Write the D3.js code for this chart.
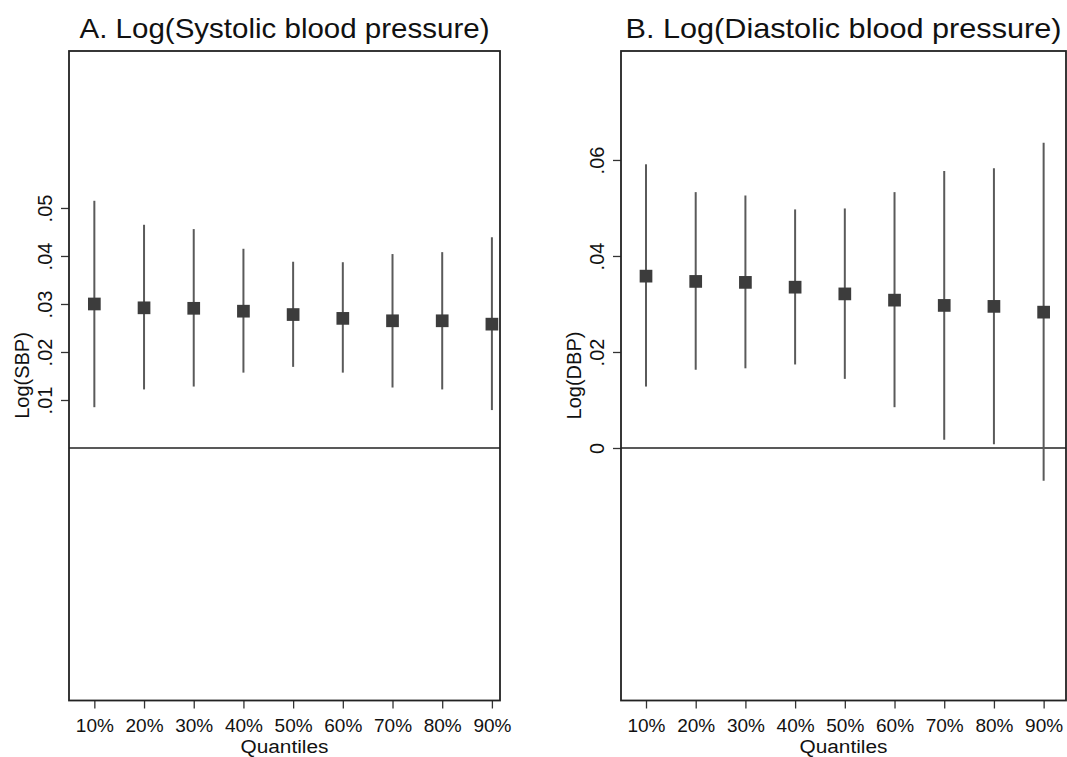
<!DOCTYPE html>
<html>
<head>
<meta charset="utf-8">
<script src="https://cdn.jsdelivr.net/npm/d3@7"></script>
<style>
  body { margin: 0; background: #fff; }
  svg { display: block; font-family: "Liberation Sans", Arial, sans-serif; }
</style>
</head>
<body>
<svg id="chart" width="1067" height="757"></svg>
<script>
// quantile regression estimates with 95% CI
var quantiles = ["10%", "20%", "30%", "40%", "50%", "60%", "70%", "80%", "90%"];

var sbpEst = [0.0300, 0.0292, 0.0291, 0.0285, 0.0278, 0.0270, 0.0265, 0.0265, 0.0258];
var sbpLo  = [0.0085, 0.0122, 0.0128, 0.0157, 0.0169, 0.0157, 0.0126, 0.0122, 0.0079];
var sbpHi  = [0.0515, 0.0465, 0.0456, 0.0415, 0.0388, 0.0387, 0.0404, 0.0408, 0.0439];

var dbpEst = [0.0358, 0.0347, 0.0345, 0.0335, 0.0321, 0.0308, 0.0297, 0.0295, 0.0283];
var dbpLo  = [0.0128, 0.0163, 0.0166, 0.0174, 0.0144, 0.0085, 0.0017, 0.0008, -0.0068];
var dbpHi  = [0.0591, 0.0533, 0.0526, 0.0497, 0.0499, 0.0533, 0.0577, 0.0583, 0.0636];

var sbpTicks = [0.01, 0.02, 0.03, 0.04, 0.05];
var dbpTicks = [0, 0.02, 0.04, 0.06];

var svg = d3.select("#chart");

// stata style labels: .05 instead of 0.05
function stataFmt(v) {
    if (v == 0) return "0";
    return d3.format(".2f")(v).replace(/^0\./, ".");
}

function drawPanel(p) {
    var x = d3.scaleLinear().domain(p.xdom).range([p.left, p.right]);
    var y = d3.scaleLinear().domain([-0.0526, 0.0827]).range([700.5, 51]);
    var g = svg.append("g");

    // title
    g.append("text")
        .attr("x", (p.left + p.right) / 2)
        .attr("y", 38)
        .attr("text-anchor", "middle")
        .attr("font-size", "28px")
        .attr("textLength", p.titleLen)
        .attr("lengthAdjust", "spacingAndGlyphs")
        .attr("fill", "#111")
        .text(p.title);

    // y axis
    var yAxis = g.append("g")
        .attr("transform", "translate(" + p.left + ",0)")
        .call(d3.axisLeft(y).tickValues(p.ticks).tickSize(8).tickFormat(stataFmt));
    yAxis.select(".domain").remove();
    yAxis.selectAll(".tick line").attr("stroke", "#333").attr("stroke-width", 1.3);
    yAxis.selectAll(".tick text")
        .attr("transform", "rotate(-90)")
        .attr("x", 0).attr("y", -17).attr("dy", 0)
        .attr("text-anchor", "middle")
        .attr("font-size", "20px")
        .attr("fill", "#111");

    g.append("text")
        .attr("transform", "translate(" + (p.left - 40) + ",375.5) rotate(-90)")
        .attr("text-anchor", "middle")
        .attr("font-size", "20px")
        .attr("fill", "#111")
        .text(p.ytitle);

    // x axis
    var xAxis = g.append("g")
        .attr("transform", "translate(0,700.5)")
        .call(d3.axisBottom(x).tickValues(d3.range(1, 10)).tickSize(8).tickPadding(10)
            .tickFormat(function(d) { return quantiles[d - 1]; }));
    xAxis.select(".domain").remove();
    xAxis.selectAll(".tick line").attr("stroke", "#333").attr("stroke-width", 1.3);
    xAxis.selectAll(".tick text").attr("font-size", "19px").attr("fill", "#111");

    g.append("text")
        .attr("x", (p.left + p.right) / 2)
        .attr("y", 753)
        .attr("text-anchor", "middle")
        .attr("font-size", "18px")
        .attr("textLength", 88)
        .attr("lengthAdjust", "spacingAndGlyphs")
        .attr("fill", "#111")
        .text("Quantiles");

    // plot box + zero line
    g.append("rect")
        .attr("x", p.left).attr("y", 51)
        .attr("width", p.right - p.left).attr("height", 700.5 - 51)
        .attr("fill", "none").attr("stroke", "#222").attr("stroke-width", 1.8);
    g.append("line")
        .attr("x1", p.left).attr("x2", p.right)
        .attr("y1", y(0)).attr("y2", y(0))
        .attr("stroke", "#222").attr("stroke-width", 1.5);

    var rows = quantiles.map(function(q, i) {
        return { i: i + 1, est: p.est[i], lo: p.lo[i], hi: p.hi[i] };
    });

    g.selectAll(".ci").data(rows).enter().append("line")
        .attr("class", "ci")
        .attr("x1", function(d) { return x(d.i); })
        .attr("x2", function(d) { return x(d.i); })
        .attr("y1", function(d) { return y(d.lo); })
        .attr("y2", function(d) { return y(d.hi); })
        .attr("stroke", "#5a5a5a").attr("stroke-width", 2);

    var s = 12.7;
    g.selectAll(".pt").data(rows).enter().append("rect")
        .attr("class", "pt")
        .attr("x", function(d) { return x(d.i) - s / 2; })
        .attr("y", function(d) { return y(d.est) - s / 2; })
        .attr("width", s).attr("height", s)
        .attr("fill", "#3c3c3c");
}

drawPanel({
    left: 69, right: 500, xdom: [0.49, 9.163],
    title: "A. Log(Systolic blood pressure)", titleLen: 410,
    ytitle: "Log(SBP)", ticks: sbpTicks,
    est: sbpEst, lo: sbpLo, hi: sbpHi
});

drawPanel({
    left: 621, right: 1066, xdom: [0.497, 9.45],
    title: "B. Log(Diastolic blood pressure)", titleLen: 436,
    ytitle: "Log(DBP)", ticks: dbpTicks,
    est: dbpEst, lo: dbpLo, hi: dbpHi
});
</script>
</body>
</html>
